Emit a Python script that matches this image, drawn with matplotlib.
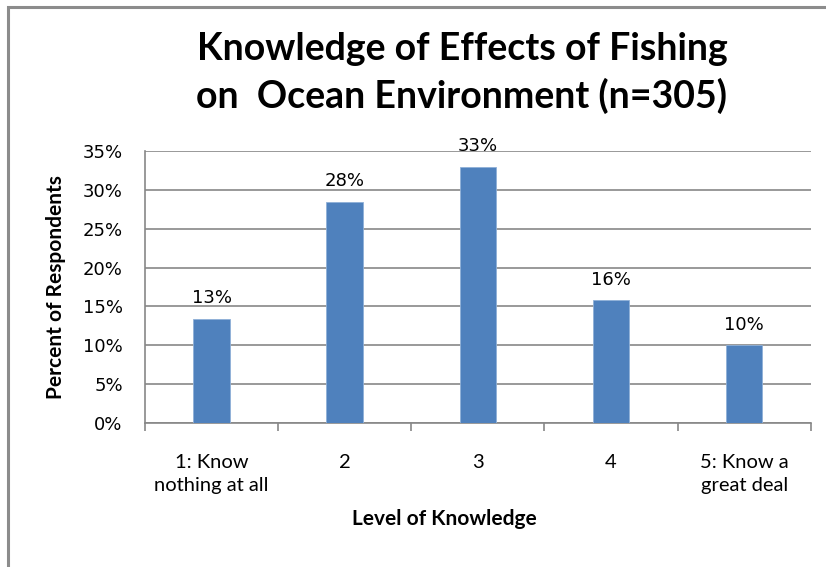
import matplotlib.pyplot as plt
from matplotlib.patches import Rectangle
import numpy as np

# Datos de la encuesta
categorias = ["1: Know\nnothing at all", "2", "3", "4", "5: Know a\ngreat deal"]
porcentajes = [13.4, 28.4, 32.9, 15.8, 10.0]
etiquetas = ["13%", "28%", "33%", "16%", "10%"]
ticks_y = [0, 5, 10, 15, 20, 25, 30, 35]

plt.rcParams['font.family'] = ['Lato', 'DejaVu Sans']

fig = plt.figure(figsize=(8.26, 5.67), dpi=100)
ax = fig.add_axes([0.1755, 0.2534, 0.806, 0.4808])

# Marco exterior del gráfico
fig.patches.append(Rectangle((8 / 826, -0.1), 1.2, 1 - 7 / 567 + 0.1,
                             transform=fig.transFigure, fill=False,
                             edgecolor='#8c8c8c', linewidth=2.2, zorder=0))

x = np.arange(len(categorias))
ax.bar(x, porcentajes, width=0.275, color='#4f81bd', edgecolor='#8fb0d8',
       linewidth=0.6, zorder=3)

for xi, v, t in zip(x, porcentajes, etiquetas):
    ax.text(xi, v + 1.5, t, ha='center', va='bottom', fontsize=13,
            family='DejaVu Sans')

ax.set_xlim(-0.5, len(categorias) - 0.5)
ax.set_ylim(0, 35)
ax.set_yticks(ticks_y)
ax.set_yticklabels([f"{t}%" for t in ticks_y], fontsize=13, family='DejaVu Sans')
ax.yaxis.grid(True, color='#878787', linewidth=1.2, zorder=0)
ax.tick_params(axis='y', length=0, pad=16)

# Marcas del eje X entre categorías
ax.set_xticks(np.arange(-0.5, len(categorias), 1.0))
ax.set_xticklabels([])
ax.set_xticks(x, minor=True)
ax.set_xticklabels(categorias, minor=True, fontsize=14.5)
for etiqueta in ax.get_xticklabels(minor=True):
    etiqueta.set_linespacing(1.45)
ax.tick_params(axis='x', which='major', length=6, color='#878787', width=1.2)
ax.tick_params(axis='x', which='minor', length=0, pad=22)

for lado in ['top', 'right']:
    ax.spines[lado].set_visible(False)
for lado in ['left', 'bottom']:
    ax.spines[lado].set_color('#878787')
    ax.spines[lado].set_linewidth(1.2)

ax.set_ylabel("Percent of Respondents", fontsize=15, fontweight='bold', labelpad=12)
fig.text(444 / 826, 1 - 525 / 567, "Level of Knowledge", ha='center', va='baseline',
         fontsize=15, fontweight='bold')

fig.text(462 / 826, 1 - 60 / 567, "Knowledge of Effects of Fishing",
         ha='center', va='baseline', fontsize=27, fontweight='bold')
fig.text(462 / 826, 1 - 108 / 567, "on  Ocean Environment (n=305)",
         ha='center', va='baseline', fontsize=27, fontweight='bold')

fig.savefig("out.png", dpi=100)
